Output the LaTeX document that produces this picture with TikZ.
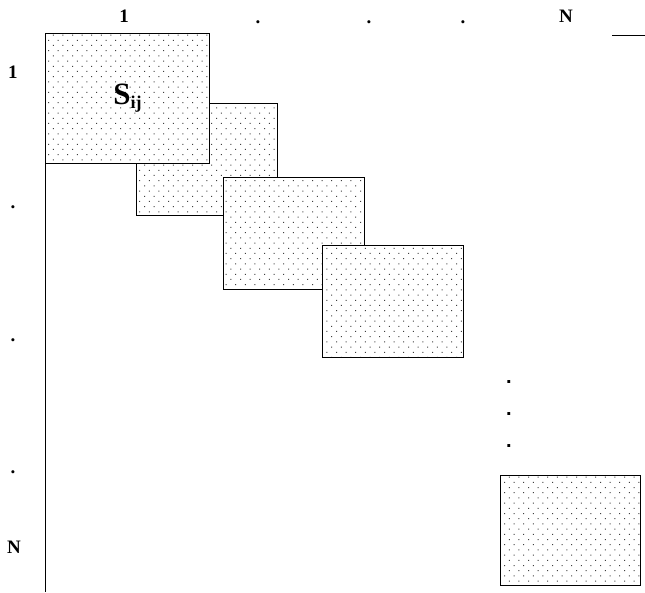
\documentclass[tikz,border=0pt]{standalone}
\usepackage{fontspec}
\setmainfont{Liberation Serif}
\newfontfamily\dotfont{Liberation Sans}
\usepackage{tikz}
\usetikzlibrary{patterns,positioning}

% sparse staggered dots for the blocks
\pgfdeclarepatternformonly{sparsedots}{\pgfqpoint{-1pt}{-1pt}}{\pgfqpoint{11pt}{11pt}}{\pgfqpoint{9.6pt}{10.4pt}}{
  \pgfpathrectangle{\pgfqpoint{0pt}{0pt}}{\pgfqpoint{1pt}{1pt}}
  \pgfpathrectangle{\pgfqpoint{4.8pt}{5.2pt}}{\pgfqpoint{1pt}{1pt}}
  \pgfusepath{fill}
}

\tikzset{
  block/.style={draw, line width=0.8pt, anchor=north west, inner sep=0pt,
    minimum width=141pt, minimum height=112pt,
    preaction={fill=white}, pattern=sparsedots, pattern color=black!75},
  idx/.style={font=\fontsize{19}{21}\selectfont\bfseries, inner sep=0pt},
  gap/.style={font=\dotfont\fontsize{20}{20}\selectfont\bfseries, inner sep=0pt}
}

\begin{document}
\begin{tikzpicture}[x=1pt,y=-1pt]
          \useasboundingbox (0,0) rectangle (645,592);
          % blocks along the diagonal
          \node[block] (b2) at (136,103) {};
          \node[block, minimum width=164pt, minimum height=130pt] (b1) at (45,33)
            {\fontsize{31}{33}\selectfont\bfseries S\raisebox{-0.25ex}{\fontsize{18}{18}\selectfont ij}};
          \node[block] (b3) at (223,177) {};
          \node[block] (b4) at (322,245) {};
          \node[block, minimum width=140pt, minimum height=110pt] (b5) at (500,475) {};
          % axis line and the short tick
          \coordinate (axend) at (45,592);
          \draw[line width=0.8pt] (b1.north west) -- (axend);
          \coordinate (tickl) at (612,35);
          \coordinate (tickr) at (645,35);
          \draw[line width=0.8pt] (tickl) -- (tickr);
          % column indices
          \node[idx] (c1) at (124,16) {1};
          \node[idx] (cd1) at (258,22) {.};
          \node[idx] (cd2) at (369,22) {.};
          \node[idx] (cd3) at (463,22) {.};
          \node[idx] (cN) at (566,16) {N};
          % row indices
          \node[idx] (r1) at (13,72) {1};
          \node[idx] (rd1) at (13,207) {.};
          \node[idx] (rd2) at (13,340) {.};
          \node[idx] (rd3) at (13,472) {.};
          \node[idx] (rN) at (14,547) {N};
          % dots between the last blocks
          \node[gap] (g1) at (509,382) {.};
          \node[gap] (g2) at (509,414) {.};
          \node[gap] (g3) at (509,446) {.};
        \end{tikzpicture}
\end{document}
